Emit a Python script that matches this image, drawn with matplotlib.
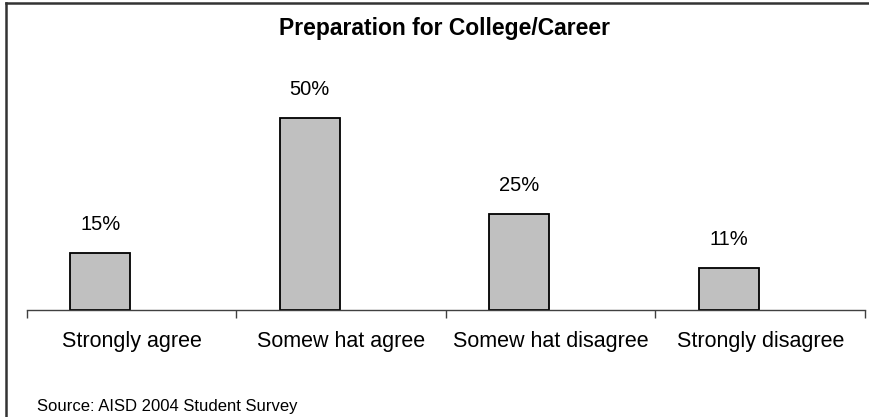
import numpy as np
import matplotlib.pyplot as plt
from matplotlib.lines import Line2D

categories = ["Strongly agree", "Somew hat agree", "Somew hat disagree", "Strongly disagree"]
values = [15, 50, 25, 11]
value_labels = ["15%", "50%", "25%", "11%"]

plt.rcParams['font.family'] = ['Liberation Sans', 'DejaVu Sans']

fig = plt.figure(figsize=(8.7, 4.17), dpi=100)
ax = fig.add_axes([27 / 870, 1 - 310 / 417, 838 / 870, 230 / 417])

x = np.arange(len(categories))
offset = -0.15
bars = ax.bar(x + offset, values, width=0.285, color='#c0c0c0', edgecolor='black', linewidth=1.3)

for xi, v, lab in zip(x, values, value_labels):
    ax.text(xi + offset, v + 6.0, lab, ha='center', va='baseline', fontsize=14.5)

ax.set_xlim(-0.5, 3.5)
ax.set_ylim(0, 60)
ax.set_yticks([])
ax.set_xticks(x)
ax.set_xticklabels(categories, fontsize=15.5)
ax.tick_params(axis='x', which='major', length=0, pad=15)
ax.set_xticks(np.arange(-0.5, 4.0, 1.0), minor=True)
ax.tick_params(axis='x', which='minor', length=6, width=1, color='#404040', direction='out')
for s in ['top', 'right', 'left']:
    ax.spines[s].set_visible(False)
ax.spines['bottom'].set_color('#404040')
ax.spines['bottom'].set_linewidth(1)

fig.text(445 / 870, 1 - 29 / 417, "Preparation for College/Career", ha='center', va='center',
         fontsize=16.5, fontweight='bold')
fig.text(37 / 870, 1 - 407 / 417, "Source: AISD 2004 Student Survey", ha='left', va='center',
         fontsize=12)

fig.add_artist(Line2D([6.5 / 870, 1], [1 - 2.5 / 417, 1 - 2.5 / 417], transform=fig.transFigure,
                      color='#333333', linewidth=1.8))
fig.add_artist(Line2D([6.5 / 870, 6.5 / 870], [0, 1 - 2.5 / 417], transform=fig.transFigure,
                      color='#333333', linewidth=1.8))

fig.savefig("out.png", dpi=100)
